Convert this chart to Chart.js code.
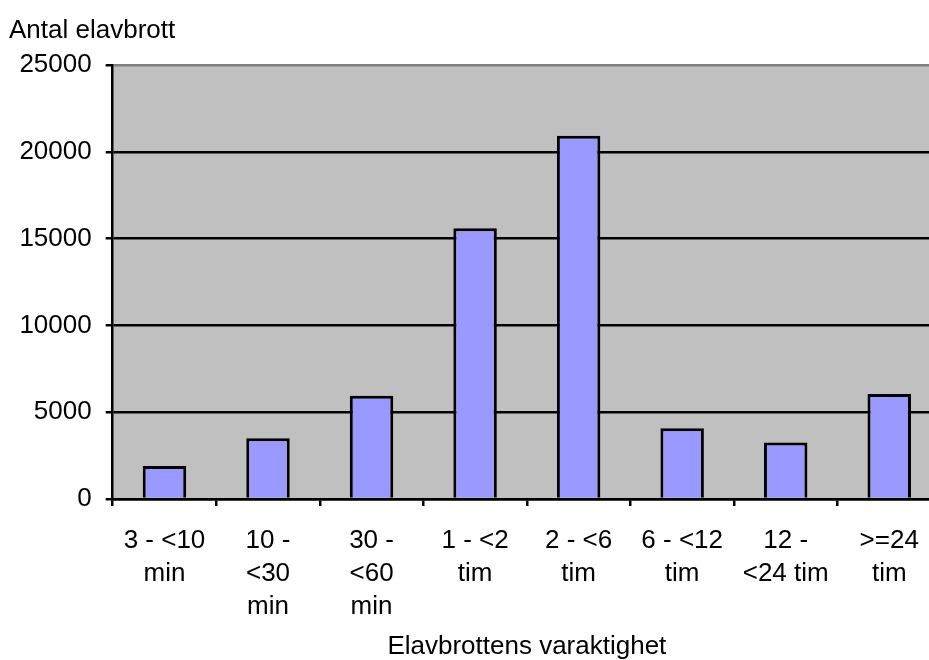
<!DOCTYPE html>
<html>
<head>
<meta charset="utf-8">
<script src="https://cdn.jsdelivr.net/npm/chart.js@4.4.1/dist/chart.umd.min.js"></script>
<style>
  html, body { margin: 0; padding: 0; background: #fff; overflow: hidden; }
  #wrap { width: 941px; height: 660px; }
</style>
</head>
<body>
<div id="wrap"><canvas id="c" width="941" height="660"></canvas></div>
<script>
// Elavbrott per varaktighet (värden avlästa ur originalbilden)
var categories = [
  ['3 - <10', 'min'],
  ['10 -', '<30', 'min'],
  ['30 -', '<60', 'min'],
  ['1 - <2', 'tim'],
  ['2 - <6', 'tim'],
  ['6 - <12', 'tim'],
  ['12 -', '<24 tim'],
  ['>=24', 'tim']
];
var antal = [1900, 3500, 5950, 15590, 20930, 4070, 3250, 6050];
var yTicks = [0, 5000, 10000, 15000, 20000, 25000];

var yTitle = 'Antal elavbrott';
var xTitle = 'Elavbrottens varaktighet';

var FONT = '"Liberation Sans", Arial, sans-serif';
var FS = 26;
var PLOT_BG = '#C0C0C0';
var BAR = '#9999FF';

// grå plotyta bakom staplarna
var plotBg = {
  id: 'plotBg',
  beforeDraw: function (chart) {
    var a = chart.chartArea, ctx = chart.ctx;
    ctx.save();
    ctx.fillStyle = PLOT_BG;
    ctx.fillRect(a.left, a.top, a.right - a.left, a.bottom - a.top);
    ctx.restore();
  }
};

new Chart(document.getElementById('c'), {
  type: 'bar',
  data: {
    labels: categories,
    datasets: [{
      data: antal,
      backgroundColor: BAR,
      borderColor: '#000',
      borderWidth: 3,
      barPercentage: 0.42,
      categoryPercentage: 1.0
    }]
  },
  options: {
    responsive: false,
    animation: false,
    devicePixelRatio: 1,
    layout: { padding: { left: 9, right: 0, top: 0, bottom: 0 } },
    plugins: {
      legend: { display: false },
      tooltip: { enabled: false },
      title: {
        display: true,
        text: yTitle,
        align: 'start',
        color: '#000',
        font: { family: FONT, size: FS, weight: 'normal', lineHeight: 1.2 },
        padding: { top: 15, bottom: 18.8 }
      }
    },
    scales: {
      x: {
        grid: {
          display: true, drawOnChartArea: false, drawTicks: true,
          tickLength: 7, color: '#000', lineWidth: 2.5, offset: true
        },
        border: { display: true, color: '#000', width: 2.5 },
        ticks: {
          color: '#000', padding: 18, maxRotation: 0, autoSkip: false,
          font: { family: FONT, size: FS, lineHeight: 1.27 }
        },
        title: {
          display: true, text: xTitle, color: '#000',
          font: { family: FONT, size: FS, lineHeight: 1.2 },
          padding: { top: 0, bottom: -2 }
        },
        afterFit: function (s) { s.height = 161; }
      },
      y: {
        min: 0, max: 25000,
        afterBuildTicks: function (s) { s.ticks = yTicks.map(function (v) { return { value: v }; }); },
        grid: {
          drawTicks: true, tickLength: 7, lineWidth: 2.5,
          color: function (ctx) { return ctx.tick && ctx.tick.value === 25000 ? '#808080' : '#000'; },
          tickColor: '#000'
        },
        border: { display: true, color: '#000', width: 2.5 },
        ticks: {
          color: '#000', padding: 14,
          font: { family: FONT, size: FS },
          callback: function (v) { return String(v); }
        },
        afterFit: function (s) { s.width = 103.7; }
      }
    }
  },
  plugins: [plotBg]
});
</script>
</body>
</html>
